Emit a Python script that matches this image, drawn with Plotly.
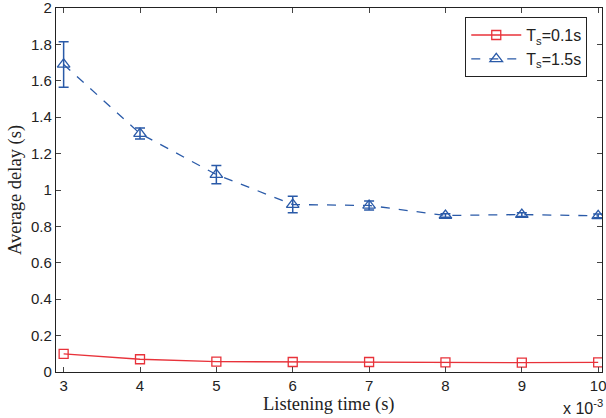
import plotly.graph_objects as go

# Listening time (units of 1e-3 s)
listen_time = [3, 4, 5, 6, 7, 8, 9, 10]

# Average delay for Ts = 0.1 s
delay_ts01 = [0.10, 0.07, 0.057, 0.055, 0.055, 0.053, 0.051, 0.053]

# Average delay for Ts = 1.5 s, with error-bar half widths
delay_ts15 = [1.69, 1.31, 1.085, 0.92, 0.915, 0.86, 0.865, 0.858]
err_ts15 = [0.125, 0.03, 0.05, 0.045, 0.025, 0.01, 0.01, 0.01]

y_ticks = [0, 0.2, 0.4, 0.6, 0.8, 1, 1.2, 1.4, 1.6, 1.8, 2]

red = "#e8323a"
blue = "#2a5aa8"
sans = "Liberation Sans, Arial, sans-serif"
serif = "Liberation Serif, Times New Roman, serif"

fig = go.Figure()
fig.add_trace(go.Scatter(
    x=listen_time, y=delay_ts01, mode="lines+markers",
    name="T<sub>s</sub>=0.1s",
    line=dict(color=red, width=1.3),
    marker=dict(symbol="square-open", size=9, color=red, line=dict(width=1.3)),
))
fig.add_trace(go.Scatter(
    x=listen_time, y=delay_ts15, mode="lines+markers",
    name="T<sub>s</sub>=1.5s",
    line=dict(color=blue, width=1.3, dash="dash"),
    marker=dict(symbol="triangle-up-open", size=11, color=blue, line=dict(width=1.3)),
    error_y=dict(type="data", array=err_ts15, visible=True, color=blue,
                 thickness=1.5, width=5),
))

axis_common = dict(
    showline=True, linecolor="#222", linewidth=1.2, mirror="ticks",
    ticks="inside", ticklen=5, tickcolor="#444", showgrid=False, zeroline=False,
    automargin=False, ticklabeloverflow="allow",
    tickfont=dict(family=sans, size=15, color="#222"),
)

fig.update_layout(
    width=606, height=418,
    margin=dict(l=56, r=4, t=8, b=46),
    paper_bgcolor="white", plot_bgcolor="white",
    xaxis=dict(range=[2.9, 10.05], tickvals=listen_time, **axis_common),
    yaxis=dict(range=[0, 2], tickvals=y_ticks,
               ticktext=[("%g" % v) for v in y_ticks],
               title=dict(text="Average delay (s)", standoff=4,
                          font=dict(family=serif, size=18.5, color="#222")),
               **axis_common),
    legend=dict(x=0.973, y=0.975, xanchor="right", yanchor="top",
                bordercolor="#222", borderwidth=1, bgcolor="white",
                font=dict(family=sans, size=16, color="#222"),
                itemwidth=50, tracegroupgap=0),
    showlegend=True,
)

# x-axis title, placed just under the tick labels
fig.add_annotation(
    text="Listening time (s)", xref="paper", yref="paper", x=0.5, y=-0.089,
    xanchor="center", yanchor="middle", showarrow=False,
    font=dict(family=serif, size=18.5, color="#222"),
)

# axis exponent
fig.add_annotation(
    text="x 10<sup>-3</sup>", xref="paper", yref="paper", x=1.005, y=-0.095,
    xanchor="right", yanchor="middle", showarrow=False,
    font=dict(family=sans, size=16, color="#222"),
)

fig.write_html("out.html")
